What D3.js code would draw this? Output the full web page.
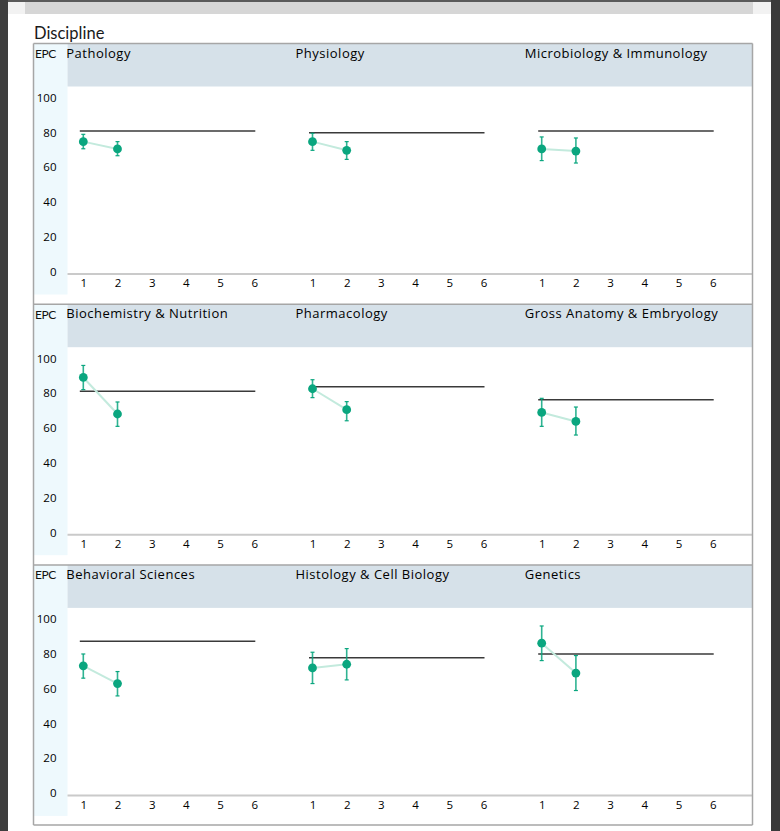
<!DOCTYPE html>
<html><head><meta charset="utf-8">
<script src="https://cdn.jsdelivr.net/npm/d3@7"></script>
<style>
html,body{margin:0;padding:0;background:#fff;}
svg{display:block;font-family:"Open Sans",Lato,sans-serif;}
</style></head>
<body>
<svg id="chart" width="780" height="831"></svg>
<script>
// ---- data ----
const disciplines = ["Pathology","Physiology","Microbiology & Immunology",
  "Biochemistry & Nutrition","Pharmacology","Gross Anatomy & Embryology",
  "Behavioral Sciences","Histology & Cell Biology","Genetics"];
const benchmark = [81.6, 80.6, 81.6, 81.8, 84.5, 77.0, 88.0, 78.6, 80.7];
const exam1Mean = [75.5, 75.5, 71.3, 89.8, 83.3, 69.7, 73.9, 72.7, 86.9];
const exam1Low  = [71.4, 70.5, 64.6, 82.8, 78.2, 61.7, 66.8, 63.7, 76.9];
const exam1High = [79.7, 80.3, 78.2, 96.7, 88.5, 77.8, 80.7, 81.7, 96.8];
const exam2Mean = [71.3, 70.5, 70.1, 68.8, 71.3, 64.5, 63.7, 74.8, 69.7];
const exam2Low  = [67.4, 65.3, 63.2, 61.7, 64.9, 56.7, 56.6, 65.8, 59.7];
const exam2High = [75.5, 75.5, 77.6, 75.7, 75.9, 72.8, 70.6, 83.8, 79.8];
const xTicks = [1, 2, 3, 4, 5, 6];
const yTicks = [0, 20, 40, 60, 80, 100];
const title = "Discipline";
const yLabel = "EPC";

// ---- layout ----
const svg = d3.select("#chart");
const frameL = 33.5, frameR = 752.5, frameTop = 43.5, rowH = 260.7;
const labelColW = 34, headerH = 43, colW = 229.2;
const green = "#0aa67f", mint = "#c3eadd";

// page chrome
svg.append("rect").attr("x",0).attr("y",0).attr("width",780).attr("height",831).attr("fill","#fff");
svg.append("rect").attr("x",0).attr("y",0).attr("width",8).attr("height",831).attr("fill","#3e3e3e");
svg.append("rect").attr("x",771).attr("y",0).attr("width",9).attr("height",831).attr("fill","#3a3a3a");
svg.append("rect").attr("x",8).attr("y",0).attr("width",763).attr("height",14).attr("fill","#f2f2f2");
svg.append("rect").attr("x",25).attr("y",0).attr("width",728).attr("height",14).attr("fill","#d6d6d6");
svg.append("rect").attr("x",8).attr("y",0).attr("width",763).attr("height",2).attr("fill","#5a5a5a");

svg.append("text").attr("x",34).attr("y",38.5).attr("font-family","Lato,sans-serif")
  .attr("font-size",16.5).attr("fill","#1a1a1a").text(title);

const rows = 3, cols = 3;
for (let r = 0; r < rows; r++) {
  const top = frameTop + r * rowH;
  const y = d3.scaleLinear().domain([0, 100]).range([top + 229.5, top + 55.5]);
  // label column
  svg.append("rect").attr("x", frameL).attr("y", top).attr("width", labelColW)
    .attr("height", 251).attr("fill", "#eef9fd");
  // header band
  svg.append("rect").attr("x", frameL + labelColW).attr("y", top).attr("width", frameR - frameL - labelColW)
    .attr("height", headerH).attr("fill", "#d6e1e9");
  svg.append("text").attr("x", 35).attr("y", top + 14.5).attr("font-size", 12)
    .attr("font-family", "Lato,sans-serif")
    .attr("fill", "#111").attr("letter-spacing", -0.5).text(yLabel);
  // y axis labels
  const yAx = svg.append("g").attr("transform", `translate(${56.5},0)`)
    .call(d3.axisLeft(y).tickValues(yTicks).tickSize(0).tickPadding(0));
  yAx.select(".domain").remove();
  yAx.selectAll("text").attr("font-size", 11.5).attr("fill", "#000").attr("font-weight", 500)
    .attr("font-family", "'Open Sans',sans-serif").attr("dy", "0.2em");
  // x baseline
  svg.append("line").attr("x1", frameL + labelColW).attr("x2", frameR)
    .attr("y1", y(0) + 1).attr("y2", y(0) + 1).attr("stroke", "#cacaca").attr("stroke-width", 2);

  for (let c = 0; c < cols; c++) {
    const i = r * cols + c;
    const px0 = frameL + labelColW + c * colW;
    const x = d3.scaleLinear().domain([1, 6]).range([px0 + 15.8, px0 + 186.8]);
    svg.append("text").attr("x", px0 - 1.2).attr("y", top + 14).attr("font-size", 13)
      .attr("font-weight", 500).attr("letter-spacing", 0.5).attr("fill", "#000").text(disciplines[i]);
    const xAx = svg.append("g").attr("transform", `translate(0,${y(0) + 5})`)
      .call(d3.axisBottom(x).tickValues(xTicks).tickSize(0).tickPadding(0).tickFormat(d3.format("d")));
    xAx.select(".domain").remove();
    xAx.selectAll("text").attr("font-size", 11.5).attr("fill", "#000").attr("font-weight", 500)
      .attr("font-family", "'Open Sans',sans-serif").attr("dy", "0.8em");

    // benchmark line
    svg.append("line").attr("x1", x(1) - 3.5).attr("x2", x(6) + 1)
      .attr("y1", y(benchmark[i])).attr("y2", y(benchmark[i]))
      .attr("stroke", "#3a3a3a").attr("stroke-width", 1.5);

    const pts = [
      {k: 1, m: exam1Mean[i], lo: exam1Low[i], hi: exam1High[i]},
      {k: 2, m: exam2Mean[i], lo: exam2Low[i], hi: exam2High[i]}
    ];
    svg.append("path").datum(pts)
      .attr("d", d3.line().x(d => x(d.k)).y(d => y(d.m)))
      .attr("fill", "none").attr("stroke", mint).attr("stroke-width", 2);
    const g = svg.append("g");
    pts.forEach(d => {
      g.append("line").attr("x1", x(d.k)).attr("x2", x(d.k)).attr("y1", y(d.lo)).attr("y2", y(d.hi))
        .attr("stroke", green).attr("stroke-opacity", 0.85).attr("stroke-width", 1.6);
      [d.lo, d.hi].forEach(v => g.append("line").attr("x1", x(d.k) - 2).attr("x2", x(d.k) + 2)
        .attr("y1", y(v)).attr("y2", y(v)).attr("stroke", green).attr("stroke-width", 1.2));
      g.append("circle").attr("cx", x(d.k)).attr("cy", y(d.m)).attr("r", 4.4).attr("fill", green);
    });
  }
  // row top border
  svg.append("line").attr("x1", frameL).attr("x2", frameR).attr("y1", top).attr("y2", top)
    .attr("stroke", "#a6a6a6").attr("stroke-width", 1.5);
}
// frame
const frameB = frameTop + rows * rowH - 0.5;
svg.append("line").attr("x1", frameL).attr("x2", frameR).attr("y1", frameB).attr("y2", frameB)
  .attr("stroke", "#a6a6a6").attr("stroke-width", 1.5);
[frameL, frameR].forEach(xx => svg.append("line").attr("x1", xx).attr("x2", xx)
  .attr("y1", frameTop).attr("y2", frameB).attr("stroke", "#a6a6a6").attr("stroke-width", 1.5));
</script>
</body></html>
